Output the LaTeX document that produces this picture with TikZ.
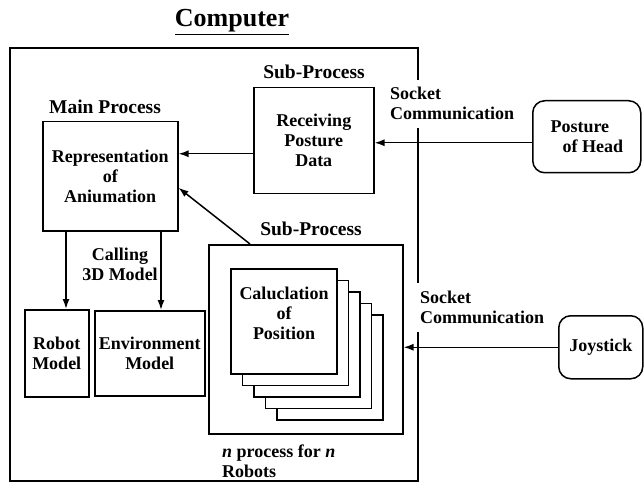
\documentclass[tikz,border=0pt]{standalone}
\usepackage{fontspec}
\setmainfont{Liberation Serif}
\usetikzlibrary{arrows.meta}
\begin{document}
\begin{tikzpicture}[x=1pt,y=-1pt,
  box/.style={draw, line width=1.5pt, fill=white, inner sep=0pt, anchor=north west},
  rbox/.style={box, rounded corners=12pt},
  txt/.style={font=\bfseries\fontsize{18}{20}\selectfont, align=center, inner sep=0pt},
  head/.style={font=\bfseries\fontsize{19.5}{22}\selectfont, inner sep=0pt},
  arr/.style={-{Latex[length=10pt,width=7pt]}, line width=1.5pt},
  frame/.style={line width=1.5pt}
  ]
\useasboundingbox (0,0) rectangle (644,494);

% title
\node[font=\bfseries\fontsize{26}{30}\selectfont, inner sep=0pt] (title) at (232,22) {\underline{Computer}};

% computer frame with gaps for the socket labels
\draw[frame] (418,80) -- (418,48) -- (10,48) -- (10,481) -- (418,481) -- (418,332);
\draw[frame] (418,128) -- (418,283);

% main process
\node[head] (mainlbl) at (105,107) {Main Process};
\node[box, txt, minimum width=135pt, minimum height=109pt] (main) at (42,121)
  {Representation\\of\\Aniumation};

% receiving sub-process
\node[head] (sub1lbl) at (314,72) {Sub-Process};
\node[box, txt, minimum width=120pt, minimum height=106pt] (recv) at (253,87)
  {Receiving\\Posture\\Data};

% posture of head
\node[rbox, txt, align=left, minimum width=108pt, minimum height=72pt] (post) at (532,100)
  {Posture\\\hspace*{12pt}of Head};
\node[txt, align=left, anchor=west] (sock1) at (390,103) {Socket\\Communication};

% calculation sub-process
\node[head] (sub2lbl) at (311,229) {Sub-Process};
\node[box, minimum width=194pt, minimum height=189pt] (sub) at (208,244) {};
\foreach \k in {4,3,2,1,0} {
  \node[box, minimum width=106pt, minimum height=105pt] (calc\k) at (230+11.6*\k,268+11.6*\k) {};
}
\node[txt] (calctxt) at (284,313) {Caluclation\\of\\Position};
\node[txt, align=left, anchor=west] (nlbl) at (222,461) {\textit{n} process for \textit{n}\\Robots};

% joystick
\node[rbox, txt, minimum width=84pt, minimum height=63pt] (joy) at (558,315) {Joystick};
\node[txt, align=left, anchor=west] (sock2) at (420,307) {Socket\\Communication};

% models
\node[txt] (calling) at (120,264) {Calling\\3D Model};
\node[box, txt, minimum width=64pt, minimum height=87pt] (robot) at (24,309) {Robot\\Model};
\node[box, txt, minimum width=110pt, minimum height=85pt] (env) at (94,310) {Environment\\Model};

% connectors
\coordinate (p1) at ([yshift=-6pt]post.west);
\draw[arr] (p1) -- (p1 -| recv.east);
\coordinate (r1) at ([yshift=-13pt]recv.west);
\draw[arr] (r1) -- (r1 -| main.east);
\draw[arr] ([xshift=42pt]sub.north west) -- ([yshift=-11.5pt]main.east);
\draw[arr] (joy.west) -- (joy.west -| sub.east);
\coordinate (c1) at ([xshift=24pt]main.south west);
\coordinate (c2) at ([xshift=119pt]main.south west);
\draw[arr] (c1) -- (c1 |- robot.north);
\draw[arr] (c2) -- (c2 |- env.north);
\end{tikzpicture}
\end{document}
